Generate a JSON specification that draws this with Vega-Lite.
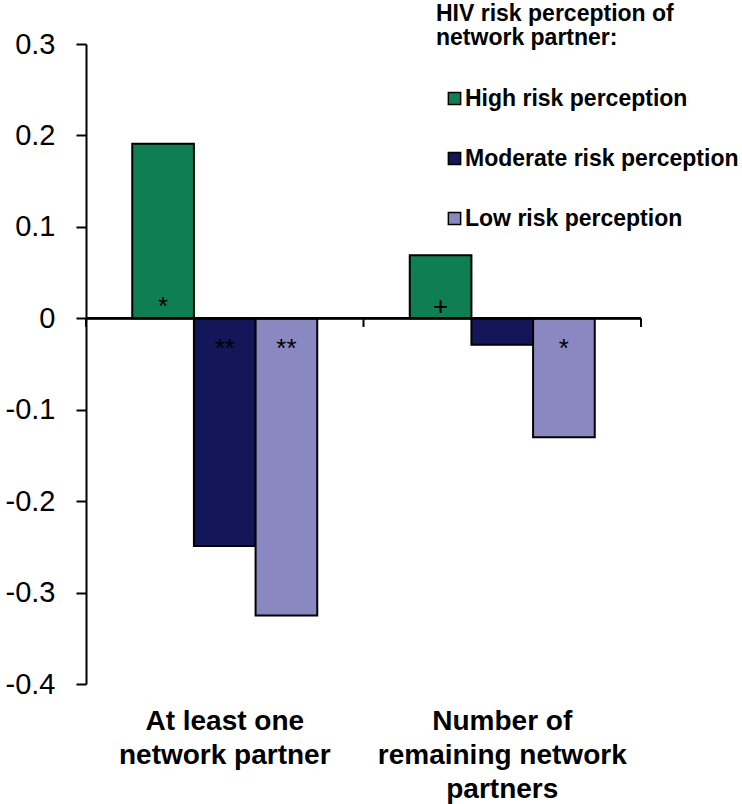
{
  "$schema": "https://vega.github.io/schema/vega-lite/v6.json",
  "width": 555,
  "height": 640,
  "autosize": {"type": "none"},
  "padding": {"left": 86, "top": 44, "right": 101, "bottom": 120},
  "background": "white",
  "config": {
    "view": {"stroke": null},
    "font": "Liberation Sans"
  },
  "datasets": {
    "bars": [
      {"outcome": "At least one network partner", "perception": "High risk perception", "value": 0.191, "sig": "*"},
      {"outcome": "At least one network partner", "perception": "Moderate risk perception", "value": -0.249, "sig": "**"},
      {"outcome": "At least one network partner", "perception": "Low risk perception", "value": -0.325, "sig": "**"},
      {"outcome": "Number of remaining network partners", "perception": "High risk perception", "value": 0.069, "sig": "+"},
      {"outcome": "Number of remaining network partners", "perception": "Moderate risk perception", "value": -0.029, "sig": ""},
      {"outcome": "Number of remaining network partners", "perception": "Low risk perception", "value": -0.130, "sig": "*"}
    ],
    "bounds": [{"b": 0}, {"b": 1}, {"b": 2}]
  },
  "resolve": {"scale": {"x": "independent"}},
  "layer": [
    {
      "data": {"name": "bars"},
      "mark": {"type": "bar", "stroke": "black", "strokeWidth": 2},
      "encoding": {
        "x": {
          "field": "outcome", "type": "nominal", "sort": null,
          "scale": {"paddingInner": 0, "paddingOuter": 0},
          "axis": {
            "title": null, "domain": false, "ticks": false, "labelAngle": 0,
            "labelFont": "Liberation Sans", "labelFontSize": 28, "labelFontWeight": "bold",
            "labelColor": "black", "labelPadding": 23, "labelLineHeight": 34,
            "labelBaseline": "top", "labelLimit": 600,
            "labelExpr": "datum.label == 'At least one network partner' ? ['At least one', 'network partner'] : ['Number of', 'remaining network', 'partners']"
          }
        },
        "xOffset": {
          "field": "perception", "type": "nominal",
          "sort": ["High risk perception", "Moderate risk perception", "Low risk perception"],
          "scale": {"paddingInner": 0, "paddingOuter": 0.75}
        },
        "y": {
          "field": "value", "type": "quantitative",
          "scale": {"domain": [-0.4, 0.3], "nice": false, "zero": false},
          "axis": {
            "title": null, "grid": false,
            "values": [-0.4, -0.3, -0.2, -0.1, 0, 0.1, 0.2, 0.3],
            "domainColor": "black", "domainWidth": 2,
            "tickColor": "black", "tickWidth": 2, "tickSize": 10,
            "labelFont": "Liberation Sans", "labelFontSize": 29, "labelColor": "black",
            "labelPadding": 21,
            "labelExpr": "datum.value == 0 ? '0' : (datum.value < 0 ? '-' + format(-datum.value, '.1f') : format(datum.value, '.1f'))"
          }
        },
        "color": {
          "field": "perception", "type": "nominal",
          "sort": ["High risk perception", "Moderate risk perception", "Low risk perception"],
          "scale": {"domain": ["High risk perception", "Moderate risk perception", "Low risk perception"], "range": ["#0f7f53", "#131659", "#8a88c0"]},
          "legend": {
            "orient": "none", "legendX": 350, "legendY": -41,
            "title": ["HIV risk perception of", "network partner:"],
            "titleFont": "Liberation Sans", "titleFontSize": 23, "titleFontWeight": "bold",
            "titleColor": "black", "titleLineHeight": 24, "titleBaseline": "top", "titlePadding": 37,
            "titleLimit": 500,
            "symbolType": "square", "symbolSize": 150, "symbolStrokeColor": "black", "symbolStrokeWidth": 1.5,
            "symbolOffset": 7,
            "labelFont": "Liberation Sans", "labelFontSize": 23, "labelFontWeight": "bold", "labelColor": "black",
            "labelOffset": -1, "rowPadding": 36, "labelLimit": 400
          }
        }
      }
    },
    {
      "data": {"name": "bars"},
      "mark": {"type": "rule", "color": "black", "strokeWidth": 2},
      "encoding": {"y": {"datum": 0}}
    },
    {
      "data": {"name": "bounds"},
      "mark": {"type": "rule", "color": "black", "strokeWidth": 2},
      "encoding": {
        "x": {"field": "b", "type": "quantitative", "scale": {"domain": [0, 2], "nice": false, "zero": false}, "axis": null},
        "y": {"datum": 0},
        "y2": {"datum": -0.0095}
      }
    },
    {
      "data": {"name": "bars"},
      "transform": [{"filter": "datum.value > 0"}],
      "mark": {"type": "text", "fontSize": 26, "color": "black", "baseline": "alphabetic", "dy": -3, "font": "Liberation Sans"},
      "encoding": {
        "x": {"field": "outcome", "type": "nominal", "sort": null, "scale": {"paddingInner": 0, "paddingOuter": 0}, "axis": null},
        "xOffset": {"field": "perception", "type": "nominal", "sort": ["High risk perception", "Moderate risk perception", "Low risk perception"], "scale": {"paddingInner": 0, "paddingOuter": 0.75}},
        "y": {"datum": 0},
        "text": {"field": "sig"}
      }
    },
    {
      "data": {"name": "bars"},
      "transform": [{"filter": "datum.value < 0"}],
      "mark": {"type": "text", "fontSize": 26, "color": "black", "baseline": "alphabetic", "dy": 39, "font": "Liberation Sans"},
      "encoding": {
        "x": {"field": "outcome", "type": "nominal", "sort": null, "scale": {"paddingInner": 0, "paddingOuter": 0}, "axis": null},
        "xOffset": {"field": "perception", "type": "nominal", "sort": ["High risk perception", "Moderate risk perception", "Low risk perception"], "scale": {"paddingInner": 0, "paddingOuter": 0.75}},
        "y": {"datum": 0},
        "text": {"field": "sig"}
      }
    }
  ]
}
